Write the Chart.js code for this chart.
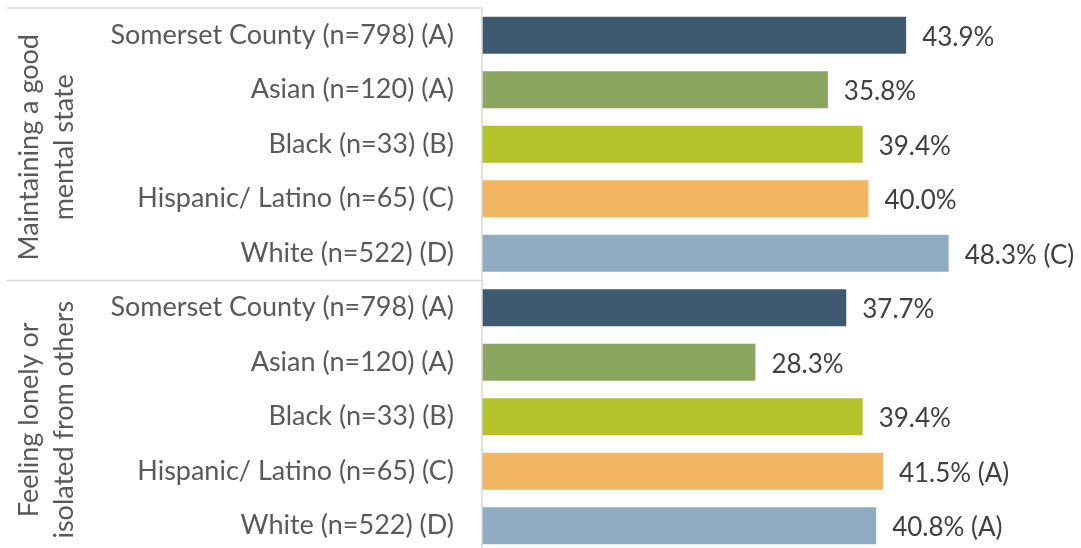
<!DOCTYPE html>
<html>
<head>
<meta charset="utf-8">
<script src="https://cdn.jsdelivr.net/npm/chart.js@4/dist/chart.umd.min.js"></script>
<style>
  html, body { margin: 0; padding: 0; background: #fff; overflow: hidden; }
  #wrap { position: absolute; left: 0; top: 0; width: 1081px; height: 553px; }
</style>
</head>
<body>
<div id="wrap"><canvas id="graphique" width="1081" height="553"></canvas></div>
<script>
// Catégories (axe vertical) et groupes
const categories = [
    "Somerset County (n=798) (A)", "Asian (n=120) (A)", "Black (n=33) (B)",
    "Hispanic/ Latino (n=65) (C)", "White (n=522) (D)",
    "Somerset County (n=798) (A)", "Asian (n=120) (A)", "Black (n=33) (B)",
    "Hispanic/ Latino (n=65) (C)", "White (n=522) (D)"
]
const groupes = [
    ["Maintaining a good", "mental state"],
    ["Feeling lonely or", "isolated from others"]
]
const valeurs = [43.9, 35.8, 39.4, 40.0, 48.3, 37.7, 28.3, 39.4, 41.5, 40.8]
const etiquettes = ["43.9%", "35.8%", "39.4%", "40.0%", "48.3% (C)",
    "37.7%", "28.3%", "39.4%", "41.5% (A)", "40.8% (A)"]
const couleurs = ["#3e5a6e", "#8ba65e", "#b5c22a", "#f2b562", "#8eabbf",
    "#3e5a6e", "#8ba65e", "#b5c22a", "#f2b562", "#8eabbf"]

const police = "Lato, 'Open Sans', sans-serif"
const gauche = 482

// Étiquettes de valeur au bout des barres
const pluginValeurs = {
    id: "valeurs",
    afterDatasetsDraw(chart) {
        const ctx = chart.ctx
        const meta = chart.getDatasetMeta(0)
        ctx.save()
        ctx.font = "26px " + police
        ctx.fillStyle = "#404040"
        ctx.textAlign = "left"
        ctx.textBaseline = "middle"
        meta.data.forEach((bar, i) => {
            ctx.fillText(etiquettes[i], bar.x + 16, bar.y + 2)
        })
        ctx.restore()
    }
}

// Libellés des groupes et lignes de séparation
const pluginGroupes = {
    id: "groupes",
    afterDraw(chart) {
        const ctx = chart.ctx
        const y = chart.scales.y
        const area = chart.chartArea
        const nb = categories.length / groupes.length
        const pas = y.getPixelForValue(1) - y.getPixelForValue(0)
        ctx.save()
        ctx.strokeStyle = "#d9d9d9"
        ctx.lineWidth = 1.5
        // axe vertical
        ctx.beginPath()
        ctx.moveTo(area.left, area.top)
        ctx.lineTo(area.left, chart.height)
        ctx.stroke()
        groupes.forEach((lignes, g) => {
            const haut = y.getPixelForValue(g * nb) - pas / 2
            const bas = y.getPixelForValue((g + 1) * nb - 1) + pas / 2
            ctx.beginPath()
            ctx.moveTo(7, haut)
            ctx.lineTo(area.left, haut)
            ctx.stroke()
            const centre = (haut + bas) / 2 + 3
            ctx.save()
            ctx.translate(0, centre)
            ctx.rotate(-Math.PI / 2)
            ctx.font = "27px " + police
            ctx.fillStyle = "#595959"
            ctx.textAlign = "center"
            ctx.textBaseline = "middle"
            ctx.fillText(lignes[0], 0, 29)
            ctx.fillText(lignes[1], 0, 64)
            ctx.restore()
        })
        ctx.restore()
    }
}

const data = {
    labels: categories,
    datasets: [{
        data: valeurs,
        backgroundColor: couleurs,
        barPercentage: 1,
        categoryPercentage: 0.68,
    }],
}

const config = {
    type: "bar",
    data: data,
    options: {
        indexAxis: "y",
        responsive: false,
        animation: false,
        devicePixelRatio: 1,
        layout: { padding: { top: 8, left: 0, right: 0, bottom: 0 } },
        plugins: {
            legend: { display: false },
            tooltip: { enabled: false },
        },
        scales: {
            x: {
                display: false,
                min: 0,
                max: 62,
            },
            y: {
                grid: { display: false },
                border: { display: false },
                ticks: {
                    color: "#595959",
                    font: { family: police, size: 27 },
                    padding: 20,
                },
                afterFit(scale) {
                    scale.width = gauche
                    scale.paddingTop = 0
                    scale.paddingBottom = 0
                },
            },
        },
    },
    plugins: [pluginValeurs, pluginGroupes],
}

// eslint-disable-next-line no-undef
const graphique = new Chart(document.querySelector("#graphique"), config)
</script>
</body>
</html>
